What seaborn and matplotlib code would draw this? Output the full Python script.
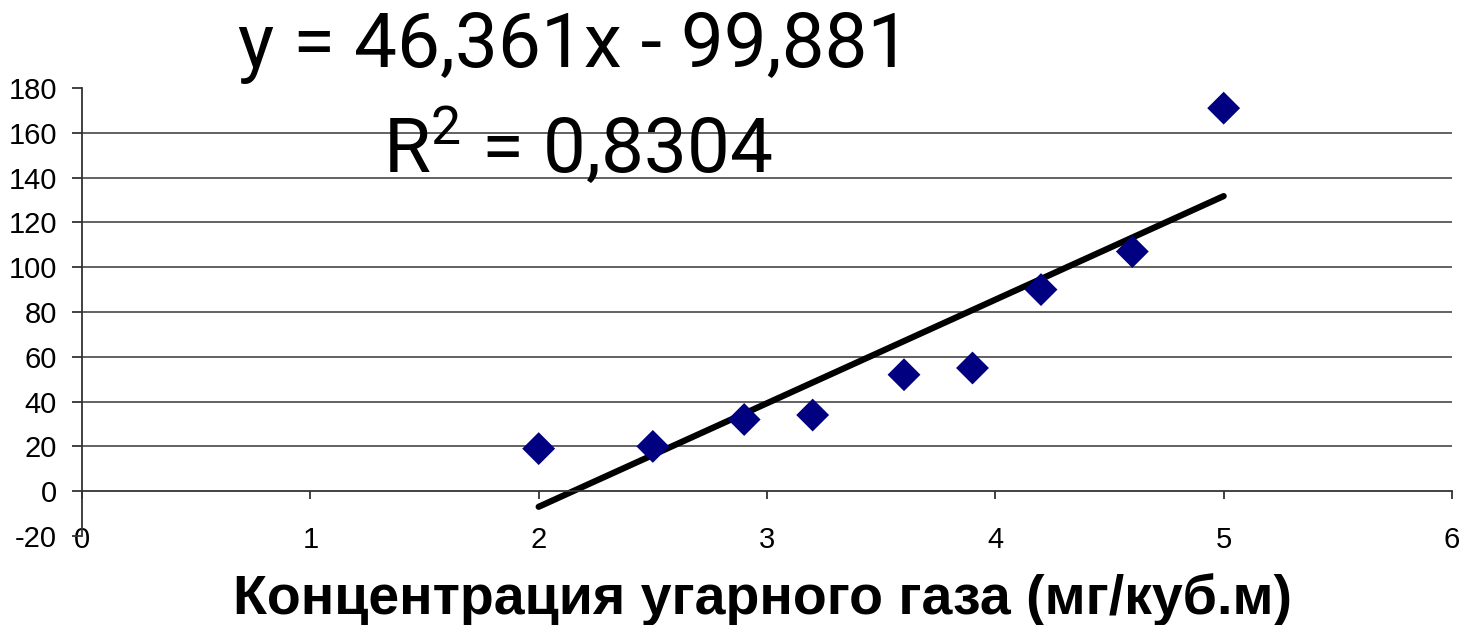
import numpy as np
import pandas as pd
import seaborn as sns
import matplotlib.pyplot as plt

# CO concentration (mg/m3) vs value
conc = [2.0, 2.5, 2.9, 3.2, 3.6, 3.9, 4.2, 4.6, 5.0]
value = [19, 20, 32, 34, 52, 55, 90, 107, 171]
equation = 'y = 46,361x - 99,881'
r2_text = '$\\mathregular{R^2}$ = 0,8304'
xlabel = 'Концентрация угарного газа (мг/куб.м)'
yticks = list(range(-20, 181, 20))
xticks = list(range(0, 7))

df = pd.DataFrame({'x': conc, 'y': value})

sns.set_style('white')
plt.rcParams['font.family'] = ['Liberation Sans', 'DejaVu Sans']
plt.rcParams['axes.unicode_minus'] = False
plt.rcParams['text.color'] = 'black'
plt.rcParams['xtick.color'] = 'black'
plt.rcParams['ytick.color'] = 'black'

fig = plt.figure(figsize=(14.64, 6.25), dpi=100)
ax = fig.add_axes([82 / 1464, 89 / 625, 1370 / 1464, 448 / 625])

sns.regplot(data=df, x='x', y='y', ax=ax, scatter=False, ci=None,
            line_kws={'color': 'black', 'lw': 4.5, 'solid_capstyle': 'round'})
sns.scatterplot(data=df, x='x', y='y', ax=ax, marker='D', s=280,
                color='#000080', edgecolor='none', zorder=3)

ax.set_xlim(0, 6)
ax.set_ylim(-20, 180)
ax.set_xticks(xticks)
ax.set_yticks(yticks)

# horizontal gridlines only between 0 and 160 (none at top/bottom)
ax.grid(False)
for t in yticks:
    if 0 < t < 180:
        ax.axhline(t, color='#555555', lw=1.3, zorder=0)

for s in ['top', 'right']:
    ax.spines[s].set_visible(False)
ax.spines['bottom'].set_position(('data', 0))
ax.spines['left'].set_position(('data', 0))
for s in ['bottom', 'left']:
    ax.spines[s].set_color('#333333')
    ax.spines[s].set_linewidth(1.3)

ax.tick_params(axis='x', direction='out', length=6, width=1.3, color='#333333',
               pad=19, labelsize=21, bottom=True)
ax.tick_params(axis='y', direction='out', length=7, width=1.3, color='#333333',
               pad=11, labelsize=21, left=True)

ax.set_xlabel('')
ax.set_ylabel('')
fig.text(0.521, 0.04, xlabel, ha='center', va='center', fontsize=40,
         fontweight='bold', family=['Liberation Sans', 'DejaVu Sans'])

fig.text(238 / 1464, (625 - 67) / 625, equation, fontsize=55,
         family=['Roboto', 'DejaVu Sans'], va='baseline')
fig.text(383 / 1464, (625 - 172) / 625, r2_text, fontsize=55,
         family=['Roboto', 'DejaVu Sans'], va='baseline')

plt.savefig('out.png', dpi=100)
